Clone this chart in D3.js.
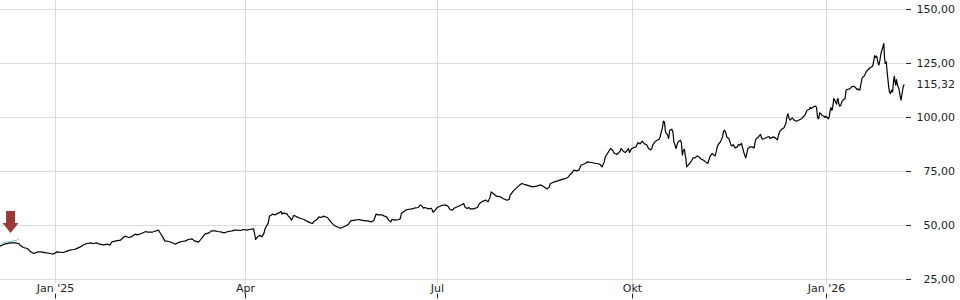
<!DOCTYPE html>
<html>
<head>
<meta charset="utf-8">
<script src="https://cdn.jsdelivr.net/npm/d3@7"></script>
<style>
  body { margin: 0; background: #fff; }
  svg { display: block; font-family: "DejaVu Sans", sans-serif; }
</style>
</head>
<body>
<svg id="chart"></svg>
<script>
// price series, one row per day: [date, ...intraday samples]
const dec2024 = [
  ["2024-12-06",40.42],["2024-12-08",41.34],["2024-12-11",41.95],["2024-12-13",41.95],
  ["2024-12-15",41.67,40.88],["2024-12-17",39.82],["2024-12-19",39.35],["2024-12-20",38.24],
  ["2024-12-22",37.04],["2024-12-24",37.78],["2024-12-25",37.78],["2024-12-26",37.64],
  ["2024-12-28",37.31],["2024-12-30",37.04],["2024-12-31",36.71]
];
const q1_2025 = [
  ["2025-01-02",37.78],["2025-01-03",37.64],["2025-01-05",37.50],["2025-01-07",38.24],
  ["2025-01-08",38.57],["2025-01-10",38.89],["2025-01-11",39.17],["2025-01-13",40.09],
  ["2025-01-14",40.74],["2025-01-16",41.67],["2025-01-18",41.95],["2025-01-19",41.67],
  ["2025-01-21",41.95],["2025-01-22",41.34],["2025-01-24",41.02],["2025-01-26",41.34],
  ["2025-01-27",40.88],["2025-01-28",42.41],["2025-01-30",42.87],["2025-02-01",43.19],
  ["2025-02-03",45.05],["2025-02-05",44.45],["2025-02-06",44.73],["2025-02-08",45.98],
  ["2025-02-09",45.65],["2025-02-11",46.30],["2025-02-13",47.22],["2025-02-14",46.90],
  ["2025-02-16",46.90],["2025-02-17",47.22],["2025-02-19",47.83],["2025-02-20",46.30],
  ["2025-02-21",44.73],["2025-02-22",42.87],["2025-02-24",42.60],["2025-02-25",42.27],
  ["2025-02-27",41.34],["2025-02-28",41.95],["2025-03-02",42.60],["2025-03-04",42.87],
  ["2025-03-05",43.52],["2025-03-07",43.80],["2025-03-08",42.87],["2025-03-10",42.27],
  ["2025-03-11",43.52],["2025-03-12",44.73],["2025-03-13",45.98],["2025-03-15",46.58],
  ["2025-03-16",47.50],["2025-03-18",47.50],["2025-03-19",47.22],["2025-03-21",46.90],
  ["2025-03-22",46.58],["2025-03-24",47.22],["2025-03-26",47.50],["2025-03-27",47.83],
  ["2025-03-28",47.83],["2025-03-30",47.69],["2025-03-31",48.15]
];
const q2_2025 = [
  ["2025-04-02",47.83],["2025-04-03",48.15],["2025-04-05",48.43,46.30],["2025-04-06",43.52],
  ["2025-04-07",44.73],["2025-04-08",45.51],["2025-04-09",44.73],["2025-04-10",46.58,48.61],
  ["2025-04-12",51.21,54.31],["2025-04-14",55.24],["2025-04-15",54.91],["2025-04-17",55.84],
  ["2025-04-18",56.49,55.24],["2025-04-19",55.84],["2025-04-21",55.24,54.31],["2025-04-22",53.99],
  ["2025-04-23",52.46],["2025-04-24",54.63],["2025-04-25",54.31,53.99],["2025-04-27",53.38],
  ["2025-04-29",52.78],["2025-04-30",52.13],["2025-05-02",51.21],["2025-05-03",50.93,51.86],
  ["2025-05-05",52.78],["2025-05-06",53.99],["2025-05-07",53.71],["2025-05-08",54.31],
  ["2025-05-10",53.71,53.06],["2025-05-11",52.46],["2025-05-12",51.21],["2025-05-13",50.28],
  ["2025-05-14",49.68],["2025-05-16",48.76],["2025-05-17",49.08],["2025-05-19",50.00],
  ["2025-05-20",50.61],["2025-05-21",52.13],["2025-05-23",52.46],["2025-05-25",52.78],
  ["2025-05-26",52.46],["2025-05-28",52.13],["2025-05-29",52.13],["2025-05-31",51.67],
  ["2025-06-01",52.46],["2025-06-02",55.24],["2025-06-03",54.91],["2025-06-05",54.91],
  ["2025-06-06",54.31],["2025-06-07",53.99],["2025-06-08",52.46],["2025-06-09",51.67,52.78],
  ["2025-06-11",52.46],["2025-06-13",52.78,53.25],["2025-06-14",55.56],["2025-06-16",57.09],
  ["2025-06-17",57.41],["2025-06-19",57.69],["2025-06-20",58.01],["2025-06-22",58.34],
  ["2025-06-23",59.54],["2025-06-24",58.62,58.01],["2025-06-25",58.34],["2025-06-27",57.69],
  ["2025-06-28",58.01,57.41],["2025-06-29",56.16],["2025-06-30",57.09]
];
const q3_2025 = [
  ["2025-07-01",58.34],["2025-07-03",59.26],["2025-07-05",59.54],["2025-07-06",58.94],
  ["2025-07-07",57.41],["2025-07-08",57.09],["2025-07-09",58.01],["2025-07-11",58.94],
  ["2025-07-13",59.87,60.19],["2025-07-14",58.62],["2025-07-15",57.87],["2025-07-16",58.34,57.69],
  ["2025-07-18",57.69],["2025-07-20",58.34,59.40],["2025-07-21",60.19],["2025-07-22",60.93],
  ["2025-07-23",61.39],["2025-07-24",61.72,61.39],["2025-07-25",60.93],["2025-07-26",63.25,65.56],
  ["2025-07-27",65.10,64.82],["2025-07-29",63.57],["2025-07-31",63.25],["2025-08-01",62.51],
  ["2025-08-03",61.72],["2025-08-04",62.04,64.03],["2025-08-06",66.02],["2025-08-08",67.88],
  ["2025-08-09",68.80],["2025-08-10",69.45],["2025-08-11",69.12],["2025-08-12",68.80],
  ["2025-08-14",68.20],["2025-08-15",67.88],["2025-08-17",68.20],["2025-08-19",68.80],
  ["2025-08-20",68.20],["2025-08-21",67.60],["2025-08-22",66.95],["2025-08-23",67.88,69.45],
  ["2025-08-25",70.05],["2025-08-27",70.65],["2025-08-28",70.98],["2025-08-30",71.58],
  ["2025-08-31",71.90],["2025-09-01",72.50],["2025-09-02",73.75],["2025-09-03",74.68,75.61],
  ["2025-09-05",75.28],["2025-09-06",75.61],["2025-09-07",77.92],["2025-09-09",78.71],
  ["2025-09-10",79.45],["2025-09-12",79.17],["2025-09-14",78.71],["2025-09-15",78.71],
  ["2025-09-16",78.24],["2025-09-17",77.13],["2025-09-18",79.45,81.76],["2025-09-19",82.55],
  ["2025-09-20",84.08],["2025-09-21",85.65],["2025-09-22",84.86,83.80],["2025-09-23",83.33],
  ["2025-09-24",82.87],["2025-09-25",83.80,84.40],["2025-09-26",85.65],["2025-09-27",84.40],
  ["2025-09-28",83.80],["2025-09-29",84.86,85.65],["2025-09-30",83.80]
];
const q4_2025 = [
  ["2025-10-01",85.65],["2025-10-03",86.39],["2025-10-04",88.43],["2025-10-05",87.78],
  ["2025-10-06",89.03,88.43],["2025-10-07",87.78],["2025-10-08",87.50],["2025-10-09",85.65],
  ["2025-10-10",85.00,85.65],["2025-10-11",87.18],["2025-10-12",88.71],["2025-10-13",89.49],
  ["2025-10-14",89.95,91.20],["2025-10-15",93.33,94.91],["2025-10-16",98.29,97.96],
  ["2025-10-17",93.33,92.60],["2025-10-18",91.81,90.28],["2025-10-19",94.12],
  ["2025-10-20",94.58,93.33],["2025-10-21",88.71],["2025-10-22",85.65,87.50],["2025-10-23",88.71],
  ["2025-10-24",89.49,88.43],["2025-10-25",82.55,84.86],["2025-10-26",85.32,82.55,81.02],
  ["2025-10-27",77.13],["2025-10-28",78.24],["2025-10-29",79.45,80.23],["2025-10-30",81.30],
  ["2025-10-31",81.30],["2025-11-01",82.22],["2025-11-02",81.62,81.02],["2025-11-03",80.69],
  ["2025-11-04",80.23],["2025-11-05",79.45],["2025-11-06",78.71,80.23],["2025-11-07",81.76],
  ["2025-11-08",83.33],["2025-11-09",82.55,82.22],["2025-11-10",84.08,86.39],["2025-11-11",87.50],
  ["2025-11-12",88.71],["2025-11-13",91.02,93.66],["2025-11-14",94.12,93.06],["2025-11-15",91.02],
  ["2025-11-16",90.28],["2025-11-17",87.18,86.85],["2025-11-18",87.50],["2025-11-19",85.93],
  ["2025-11-20",86.39,87.50],["2025-11-21",87.18],["2025-11-22",87.97],["2025-11-23",84.08,82.55],
  ["2025-11-24",81.30,83.33],["2025-11-25",85.65],["2025-11-26",86.39],["2025-11-27",86.39],
  ["2025-11-28",85.93,89.03],["2025-11-29",90.28],["2025-11-30",91.02],["2025-12-01",92.13,90.56],
  ["2025-12-02",89.95],["2025-12-03",90.28],["2025-12-04",90.88],["2025-12-05",91.20,90.28],
  ["2025-12-06",90.56],["2025-12-07",91.02],["2025-12-08",90.56],["2025-12-09",89.63,91.81],
  ["2025-12-10",93.33],["2025-12-11",94.58],["2025-12-12",95.19],["2025-12-13",97.23,99.54,101.07],
  ["2025-12-14",101.67,99.54],["2025-12-15",98.75],["2025-12-16",99.82,99.22],["2025-12-17",98.75],
  ["2025-12-18",98.29],["2025-12-19",98.75],["2025-12-20",99.22,99.54],["2025-12-21",100.14],
  ["2025-12-22",101.07],["2025-12-23",103.38],["2025-12-24",103.70,104.63],["2025-12-25",104.17],
  ["2025-12-26",104.91],["2025-12-27",105.24,104.63],["2025-12-28",100.00,99.54],
  ["2025-12-29",102.13,101.86],["2025-12-30",101.07],["2025-12-31",100.61,100.00]
];
const q1_2026 = [
  ["2026-01-01",100.61],["2026-01-02",99.36,100.28],["2026-01-03",103.38,104.63,103.38],
  ["2026-01-04",103.70,106.16,108.80],["2026-01-05",108.34,107.23],["2026-01-06",106.16,108.34,108.80],
  ["2026-01-07",106.49,105.24],["2026-01-08",105.70,107.23],["2026-01-09",108.01],
  ["2026-01-10",108.80,112.64],["2026-01-11",112.97],["2026-01-12",113.25,113.43],
  ["2026-01-13",114.17],["2026-01-14",114.49],["2026-01-15",113.89,112.97],["2026-01-16",113.25],
  ["2026-01-17",112.64],["2026-01-18",118.06,118.80],["2026-01-19",119.12,120.05],
  ["2026-01-20",121.11],["2026-01-21",122.22],["2026-01-22",123.15],
  ["2026-01-23",123.75,125.00,126.53],["2026-01-24",128.71,127.78],["2026-01-25",128.38,125.74],
  ["2026-01-26",124.21,126.53],["2026-01-27",129.63,130.83,131.94],
  ["2026-01-28",133.01,134.26,128.06],["2026-01-29",125.00,125.74],
  ["2026-01-30",120.37,117.27,114.17],["2026-01-31",111.85,111.11],["2026-02-01",112.64,111.85],
  ["2026-02-02",117.27,119.12,116.48],["2026-02-03",114.95,117.59,115.74],
  ["2026-02-04",114.49,113.43],["2026-02-05",110.32,108.01],["2026-02-06",111.11,114.17],
  ["2026-02-07",115.32]
];

// short light-blue overlay at the start
const overlay = [
  ["2024-12-07",41.7],["2024-12-09",42.3],["2024-12-12",42.8],["2024-12-14",43.2],["2024-12-15",43.8]
];

// buy marker (arrow)
const markerDate = "2024-12-11";
const markerValue = 41.95;

const lastPrice = 115.32;
const yTicks = [25, 50, 75, 100, 125, 150];
const xTickDates = ["2025-01-01", "2025-04-01", "2025-07-01", "2025-10-01", "2026-01-01"];
const xTickLabels = ["Jan '25", "Apr", "Jul", "Okt", "Jan '26"];

const config = {
  width: 960,
  height: 300,
  margin: {top: 9.5, right: 55, bottom: 20.5, left: 0},
  domainStart: "2024-12-06T00:00Z",
  domainEnd: "2026-02-07T09:00Z"
};

const parseDay = d3.utcParse("%Y-%m-%d");
const de = d3.formatLocale({decimal: ",", thousands: ".", grouping: [3], currency: ["", " €"]});
const fmt = de.format(".2f");

const width = config.width - config.margin.left - config.margin.right;
const height = config.height - config.margin.top - config.margin.bottom;

const svg = d3.select("#chart")
  .attr("width", config.width)
  .attr("height", config.height);

const chart = svg.append("g")
  .attr("transform", `translate(${config.margin.left},${config.margin.top})`);

const x = d3.scaleUtc()
  .domain([new Date(config.domainStart), new Date(config.domainEnd)])
  .range([0, width]);

const y = d3.scaleLinear()
  .domain([25, 150])
  .range([height, 0]);

// spread the samples of a day over that day
function toPoints(rows) {
  return rows.flatMap(r => {
    const day = parseDay(r[0]);
    const vals = r.slice(1);
    return vals.map((v, i) => ({t: d3.utcMinute.offset(day, Math.round(1440 * i / vals.length)), v}));
  });
}

const series = toPoints([...dec2024, ...q1_2025, ...q2_2025, ...q3_2025, ...q4_2025, ...q1_2026]);
const overlayPts = toPoints(overlay);

const crisp = v => Math.round(v) + 0.5;

// horizontal grid
chart.append("g")
  .selectAll("line")
  .data(yTicks)
  .join("line")
    .attr("x1", 0)
    .attr("x2", width)
    .attr("y1", d => y(d))
    .attr("y2", d => y(d))
    .attr("stroke", "#dcdcdc")
    .attr("stroke-width", 1);

// vertical grid
chart.append("g")
  .selectAll("line")
  .data(xTickDates)
  .join("line")
    .attr("x1", d => crisp(x(parseDay(d))))
    .attr("x2", d => crisp(x(parseDay(d))))
    .attr("y1", -config.margin.top)
    .attr("y2", height + 5)
    .attr("stroke", "#dcdcdc")
    .attr("stroke-width", 1);

// bottom axis: label on top, small tick below it
const xAxisG = chart.append("g")
  .attr("transform", `translate(0,${height + 14})`);

const xt = xAxisG.selectAll("g")
  .data(xTickDates)
  .join("g")
    .attr("transform", d => `translate(${crisp(x(parseDay(d)))},0)`);

xt.append("line")
  .attr("y1", 0)
  .attr("y2", 5)
  .attr("stroke", "#222");

xt.append("text")
  .attr("y", -2)
  .attr("text-anchor", "middle")
  .attr("font-size", "11px")
  .attr("fill", "#222")
  .text((d, i) => xTickLabels[i]);

// right axis
const yAxisG = chart.append("g")
  .attr("transform", `translate(${width},0)`);

const yt = yAxisG.selectAll("g")
  .data(yTicks)
  .join("g")
    .attr("transform", d => `translate(0,${y(d)})`);

yt.append("line")
  .attr("x1", 1)
  .attr("x2", 6)
  .attr("stroke", "#222");

yt.append("text")
  .attr("x", 50)
  .attr("dy", "0.35em")
  .attr("text-anchor", "end")
  .attr("font-size", "11px")
  .attr("fill", "#222")
  .text(d => fmt(d));

yAxisG.append("text")
  .attr("x", 50)
  .attr("y", y(lastPrice))
  .attr("dy", "0.35em")
  .attr("text-anchor", "end")
  .attr("font-size", "11px")
  .attr("fill", "#222")
  .text(fmt(lastPrice));

const line = d3.line()
  .x(d => x(d.t))
  .y(d => y(d.v));

chart.append("path")
  .datum(series)
  .attr("fill", "none")
  .attr("stroke", "#000")
  .attr("stroke-width", 1.2)
  .attr("stroke-linejoin", "round")
  .attr("d", line);

chart.append("path")
  .datum(overlayPts)
  .attr("fill", "none")
  .attr("stroke", "#78c3cb")
  .attr("stroke-width", 1)
  .attr("d", line);

// down arrow above the buy point
const ax = x(parseDay(markerDate));
const ay = y(markerValue) - 10;
chart.append("path")
  .attr("transform", `translate(${ax},${ay})`)
  .attr("d", "M-4.5,-22L4.5,-22L4.5,-10L8,-10L0,0L-8,-10L-4.5,-10Z")
  .attr("fill", "#983b36");
</script>
</body>
</html>
